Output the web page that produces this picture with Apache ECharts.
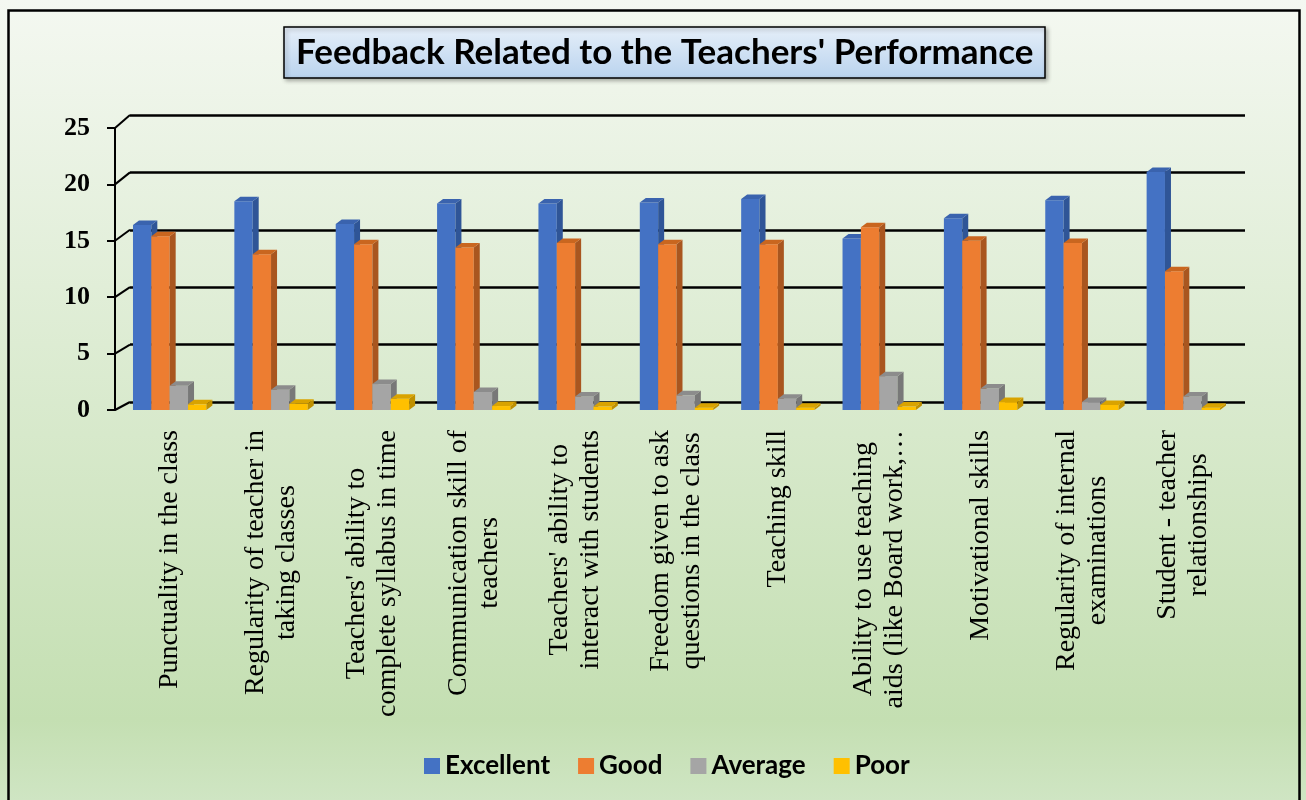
<!DOCTYPE html>
<html>
<head>
<meta charset="utf-8">
<script src="https://cdn.jsdelivr.net/npm/echarts@6/dist/echarts.min.js"></script>
<style>
  html, body { margin: 0; padding: 0; }
  #charts { width: 1306px; height: 800px; }
</style>
</head>
<body>
<div id="charts"></div>
<script>
var categories = [
  'Punctuality in the class',
  'Regularity of teacher in\ntaking classes',
  "Teachers' ability to\ncomplete syllabus in time",
  'Communication skill of\nteachers',
  "Teachers' ability to\ninteract with students",
  'Freedom given to ask\nquestions in the class',
  'Teaching skill',
  'Ability to use teaching\naids (like Board work,…',
  'Motivational skills',
  'Regularity of internal\nexaminations',
  'Student - teacher\nrelationships'
];
var excellent = [16.4, 18.5, 16.5, 18.3, 18.3, 18.4, 18.7, 15.2, 17.0, 18.6, 21.1];
var good      = [15.4, 13.8, 14.7, 14.4, 14.8, 14.7, 14.7, 16.2, 15.0, 14.8, 12.3];
var average   = [2.15, 1.8, 2.3, 1.6, 1.2, 1.3, 1.0, 3.0, 1.9, 0.7, 1.2];
var poor      = [0.5, 0.55, 1.0, 0.35, 0.3, 0.2, 0.2, 0.3, 0.7, 0.45, 0.2];
var seriesNames = ['Excellent', 'Good', 'Average', 'Poor'];
var yTicks = [0, 5, 10, 15, 20, 25];

// front, side, top shades
var colors = [
  ['#4472C4', '#2F5597', '#3A63AE'],
  ['#ED7D31', '#A9561F', '#C9661F'],
  ['#A5A5A5', '#787878', '#8C8C8C'],
  ['#FFC000', '#BF9000', '#D9A300']
];

var front = { left: 119, right: 72, top: 128, bottom: 390 };
var back = { left: 130, right: 61, top: 115, bottom: 398 };
var depthX = 6, depthY = 4.5;

function renderBar(params, api) {
  var s = params.seriesIndex;
  var top = api.coord([api.value(0), api.value(1)]);
  var base = api.coord([api.value(0), 0]);
  var band = api.size([1, 0])[0];
  var bw = band * 0.181;
  var x0 = top[0] - 2 * bw + s * bw;
  var y1 = top[1], y0 = base[1];
  var c = colors[s];
  return {
    type: 'group',
    children: [
      { type: 'rect', shape: { x: x0, y: y1, width: bw, height: y0 - y1 }, style: { fill: c[0] } },
      { type: 'polygon', shape: { points: [[x0 + bw, y1], [x0 + bw + depthX, y1 - depthY], [x0 + bw + depthX, y0 - depthY], [x0 + bw, y0]] }, style: { fill: c[1] } },
      { type: 'polygon', shape: { points: [[x0, y1], [x0 + depthX, y1 - depthY], [x0 + bw + depthX, y1 - depthY], [x0 + bw, y1]] }, style: { fill: c[2] } }
    ]
  };
}

function makeSeries(name, values, i) {
  return {
    name: name,
    type: 'custom',
    xAxisIndex: 0,
    yAxisIndex: 0,
    renderItem: renderBar,
    itemStyle: { color: colors[i][0] },
    encode: { x: 0, y: 1 },
    data: values.map(function (v, k) { return [k, v]; }),
    z: 3
  };
}

var myChart = echarts.init(document.getElementById('charts'));

var option = {
  animation: false,
  backgroundColor: {
    type: 'linear', x: 0, y: 0, x2: 0, y2: 1,
    colorStops: [
      { offset: 0, color: '#F4F8F1' },
      { offset: 0.9, color: '#C4DFB2' },
      { offset: 1, color: '#CFE5C3' }
    ]
  },
  title: {
    text: "Feedback Related to the Teachers' Performance",
    left: 284,
    top: 27,
    padding: [8, 12, 8, 12],
    borderColor: '#000',
    borderWidth: 1.5,
    backgroundColor: {
      type: 'linear', x: 0, y: 0, x2: 0, y2: 1,
      colorStops: [
        { offset: 0, color: '#E6EFF9' },
        { offset: 1, color: '#B9D3EE' }
      ]
    },
    shadowColor: 'rgba(0,0,0,0.3)',
    shadowBlur: 4,
    shadowOffsetX: 2,
    shadowOffsetY: 2,
    textStyle: { fontFamily: 'Lato', fontWeight: 'bold', fontSize: 35, color: '#000' }
  },
  legend: {
    data: seriesNames,
    bottom: 16,
    left: 419,
    icon: 'rect',
    itemWidth: 16,
    itemHeight: 16,
    itemGap: 28,
    textStyle: { fontFamily: 'Lato', fontWeight: 'bold', fontSize: 26, color: '#000' }
  },
  grid: [
    { left: back.left, right: back.right, top: back.top, bottom: back.bottom },
    { left: front.left, right: front.right, top: front.top, bottom: front.bottom }
  ],
  xAxis: [
    {
      type: 'category', gridIndex: 1, data: categories,
      axisLine: { show: false }, axisTick: { show: false },
      axisLabel: {
        rotate: 90, margin: 20, interval: 0,
        formatter: function (v) {
          return v.split('\n').map(function (l) { return '{c|' + l + '}'; }).join('\n');
        },
        rich: {
          c: { fontFamily: 'Liberation Serif', fontSize: 28, color: '#000', align: 'center', lineHeight: 31 }
        }
      }
    },
    { type: 'category', gridIndex: 0, data: categories, show: false }
  ],
  yAxis: [
    {
      type: 'value', gridIndex: 1, min: 0, max: 25, interval: 5, offset: 4,
      axisLine: { show: true, lineStyle: { color: '#000', width: 2 } },
      axisTick: { show: true, length: 8, lineStyle: { color: '#000', width: 2 } },
      splitLine: { show: false },
      axisLabel: { margin: 25, fontFamily: 'Liberation Serif', fontWeight: 'bold', fontSize: 26, color: '#000' }
    },
    {
      type: 'value', gridIndex: 0, min: 0, max: 25, interval: 5,
      axisLine: { show: false }, axisTick: { show: false }, axisLabel: { show: false },
      splitLine: { show: true, lineStyle: { color: '#000', width: 2.5 } }
    }
  ],
  series: [
    makeSeries(seriesNames[0], excellent, 0),
    makeSeries(seriesNames[1], good, 1),
    makeSeries(seriesNames[2], average, 2),
    makeSeries(seriesNames[3], poor, 3)
  ]
};

myChart.setOption(option);

// diagonal connectors from the front value axis to the back wall, plus frame
var frontAxisX = front.left - 4;
var lines = yTicks.map(function (v) {
  var yf = myChart.convertToPixel({ yAxisIndex: 0 }, v);
  var yb = myChart.convertToPixel({ yAxisIndex: 1 }, v);
  return {
    type: 'line',
    shape: { x1: frontAxisX, y1: yf, x2: back.left, y2: yb },
    style: { stroke: '#000', lineWidth: 2 },
    z: 2
  };
});
lines.push({
  type: 'rect',
  shape: { x: 8.5, y: 10.5, width: 1291, height: 800 },
  style: { fill: null, stroke: '#000', lineWidth: 2.5 },
  z: 10
});
myChart.setOption({ graphic: lines });
</script>
</body>
</html>
